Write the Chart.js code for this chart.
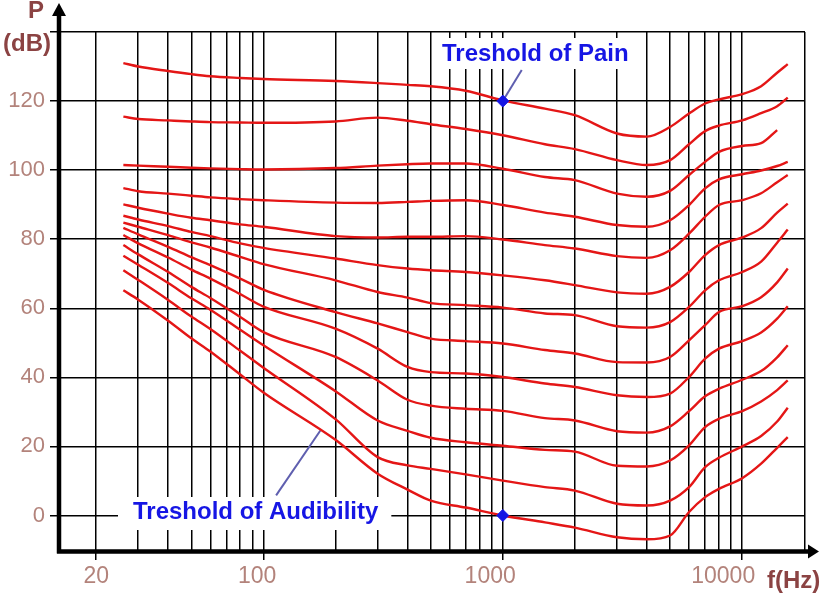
<!DOCTYPE html>
<html><head><meta charset="utf-8">
<script src="https://cdn.jsdelivr.net/npm/chart.js@4.4.1/dist/chart.umd.min.js"></script>
<style>html,body{margin:0;padding:0;background:#fff;}canvas{display:block;}</style>
</head><body>
<canvas id="c" width="825" height="600"></canvas>
<script>
// ---- data (frequency in Hz, sound pressure level in dB) ----
const freqs = [26, 30, 40, 50, 60, 80, 100, 200, 300, 400, 500, 700, 1000, 1500, 2000, 3000, 4000, 5000, 6000, 7000, 8000, 10000, 12000, 14000, 15500];
const phon120 = [131, 130, 128.7, 127.8, 127.2, 126.7, 126.4, 125.8, 125.2, 124.7, 124.3, 123, 120.2, 117.8, 115.9, 110.6, 109.7, 112.5, 116.4, 119.3, 120.5, 122, 124.3, 128.2, 130.7];
const phon110 = [115.5, 114.8, 114.4, 114.1, 113.9, 113.8, 113.7, 114.1, 115.2, 114.3, 113.3, 111.9, 110.1, 107.5, 106.1, 102.9, 101.5, 102.9, 107.5, 111.3, 112.9, 114.4, 116.5, 118.5, 121];
const phon100 = [101.5, 101.3, 101, 100.7, 100.5, 100.3, 100.2, 100.6, 101.3, 101.7, 101.9, 101.9, 100.4, 98, 97.1, 93.2, 92.3, 94, 98.6, 102.4, 105.3, 107, 107.8, 111.6, null];
const phon90 = [94.8, 93.9, 93.2, 92.6, 92.1, 91.6, 91.3, 90.6, 90.5, 90.8, 91.1, 91.3, 89.9, 87.7, 86.5, 84.1, 83.6, 85.5, 89.9, 94.7, 97.3, 98.8, 99.9, 101.2, 102.4];
const phon80 = [90.1, 89.1, 87.4, 86.2, 85.5, 84.3, 83.6, 80.9, 80.5, 80.7, 80.7, 80.9, 79.9, 78.3, 77.3, 75.1, 74.6, 76.8, 81.6, 86.5, 89.9, 91.3, 93.3, 96.5, 98.6];
const phon70 = [86.8, 85.7, 83.8, 82.1, 80.9, 78.8, 77.5, 74.4, 72.5, 71.5, 71, 70.5, 69.5, 68.1, 66.7, 64.6, 64.2, 66.2, 70.5, 75.4, 78.3, 80.5, 83.2, 87.7, 90.3];
const phon60 = [84.8, 83.6, 81.2, 79.1, 77.6, 74.9, 72.8, 68.1, 64.7, 63.1, 61.5, 60.9, 60.2, 58.5, 58, 54.8, 54.4, 56, 60.4, 65.2, 68.1, 70.5, 73.5, 79, 82.8];
const phon50 = [83.3, 81.4, 77.8, 74.8, 72.5, 68.6, 65.4, 58.9, 55.6, 53.1, 51.2, 50.5, 49.8, 47.9, 46.9, 44.4, 44.3, 45.9, 50.7, 55.1, 58.9, 60.6, 63.2, 67.5, 71.5];
const phon40 = [81.2, 78.8, 74.7, 71.2, 68.6, 64.1, 60.5, 54.1, 48.3, 43, 41.5, 41.1, 40.1, 38.2, 37.2, 34.8, 34.3, 35.3, 40.1, 45.4, 48.3, 50.5, 53, 57, 60.6];
const phon30 = [78.3, 75.6, 70.5, 66.2, 63, 57.5, 53.1, 45.9, 39.1, 33.5, 31.8, 30.9, 30.3, 28.2, 27.5, 24.4, 24, 25.8, 30.2, 34.5, 36.7, 39.3, 41.8, 45.8, 49.3];
const phon20 = [75.2, 72.6, 67.3, 62.9, 59.6, 53.8, 49.3, 36, 27.5, 24.5, 22.5, 21.2, 20.2, 19, 18.5, 14.4, 14.2, 15.9, 20.3, 25.6, 28, 30.2, 33, 36.3, 39.1];
const phon10 = [71, 68.2, 62.4, 57.6, 54, 47.7, 42.8, 27.9, 16.9, 14.5, 13.5, 11.9, 10.1, 8.2, 7.2, 3.4, 2.9, 4.3, 8.2, 14, 16.7, 20, 23, 27.2, 31.2];
const phon0 = [65.2, 62.5, 56.4, 51.3, 47.5, 40.8, 35.6, 21.9, 12.1, 7.5, 4.3, 2.3, 0, -2, -3.5, -6.3, -6.9, -5.8, 1, 5.3, 7.7, 10.8, 15, 19.6, 22.7];

const markerFreqs = [1000, 1000];
const markerLevels = [120, 0];

const xTickValues = [20,30,40,50,60,70,80,90,100,200,300,400,500,600,700,800,900,1000,2000,3000,4000,5000,6000,7000,8000,9000,10000];
const xTickLabels = [20, 100, 1000, 10000];
const yTickValues = [-10, 0, 20, 40, 60, 80, 100, 120, 140];
const yTickLabels = [0, 20, 40, 60, 80, 100, 120];
const xMin = 14, xMax = 18300, yMin = -10, yMax = 140;

const painText = 'Treshold of Pain';
const audText = 'Treshold of Audibility';
const painPointer = [[1000, 120], [1200, 129]];
const audPointer = [[113, 5.8], [173, 24.6]];

// ---- chart ----
const curves = [phon0, phon10, phon20, phon30, phon40, phon50, phon60, phon70, phon80, phon90, phon100, phon110, phon120];
const CURVE = 'rgb(228,22,22)';
const TICKCOL = '#b3837b';
const TITLECOL = '#8b4343';
const BLUE = 'rgb(22,22,228)';
const FONT = '"Liberation Sans", Arial, sans-serif';

const datasets = curves.map((vals, k) => ({
  label: (k * 10) + ' phon',
  data: freqs.map((f, i) => ({x: f, y: vals[i]})).filter(p => p.y !== null),
  borderColor: CURVE,
  borderWidth: 2.4,
  pointRadius: 0,
  fill: false,
  cubicInterpolationMode: 'monotone',
  order: 1
}));
datasets.push({
  label: 'markers',
  data: markerFreqs.map((f, i) => ({x: f, y: markerLevels[i]})),
  showLine: false,
  pointStyle: 'rectRot',
  pointRadius: 6,
  backgroundColor: BLUE,
  borderColor: BLUE,
  borderWidth: 1,
  order: 0
});

const decor = {
  id: 'decor',
  beforeDatasetsDraw(chart) {
    const {ctx, scales: {x, y}} = chart;
    ctx.save();
    ctx.font = 'bold 24px ' + FONT;
    ctx.textBaseline = 'middle';
    // white backgrounds behind the labels
    ctx.fillStyle = '#ffffff';
    const pw = ctx.measureText(painText).width;
    const aw = ctx.measureText(audText).width;
    ctx.fillRect(436, 38, pw + 14, 31);
    ctx.fillRect(118, 497, aw + 28, 33);
    // pointer lines
    ctx.strokeStyle = 'rgb(95,95,175)';
    ctx.lineWidth = 2;
    [painPointer, audPointer].forEach(p => {
      ctx.beginPath();
      ctx.moveTo(x.getPixelForValue(p[0][0]), y.getPixelForValue(p[0][1]));
      ctx.lineTo(x.getPixelForValue(p[1][0]), y.getPixelForValue(p[1][1]));
      ctx.stroke();
    });
    ctx.fillStyle = BLUE;
    ctx.fillText(painText, 442, 54);
    ctx.fillText(audText, 133, 512);
    ctx.restore();
  },
  afterDraw(chart) {
    const {ctx, chartArea: a} = chart;
    ctx.save();
    ctx.fillStyle = '#000';
    ctx.strokeStyle = '#000';
    ctx.lineWidth = 4.5;
    const ay = a.bottom + 1.5;
    ctx.beginPath();
    ctx.moveTo(a.left, ay + 2);
    ctx.lineTo(a.left, 14);
    ctx.moveTo(a.left - 2, ay);
    ctx.lineTo(a.right + 4, ay);
    ctx.stroke();
    // arrow heads
    ctx.beginPath();
    ctx.moveTo(a.left, 3);
    ctx.lineTo(a.left - 7, 16);
    ctx.lineTo(a.left + 7, 16);
    ctx.closePath();
    ctx.fill();
    ctx.beginPath();
    ctx.moveTo(a.right + 14, ay);
    ctx.lineTo(a.right + 3, ay - 7);
    ctx.lineTo(a.right + 3, ay + 7);
    ctx.closePath();
    ctx.fill();
    // axis titles
    ctx.fillStyle = TITLECOL;
    ctx.font = 'bold 24px ' + FONT;
    ctx.textBaseline = 'middle';
    ctx.textAlign = 'center';
    ctx.fillText('P', 36, 11);
    ctx.fillText('(dB)', 27, 44);
    ctx.textAlign = 'left';
    ctx.fillText('f(Hz)', 767, 581);
    ctx.restore();
  }
};

new Chart(document.getElementById('c'), {
  type: 'line',
  data: {datasets},
  options: {
    responsive: false,
    animation: false,
    devicePixelRatio: 1,
    layout: {padding: {left: 0, right: 20, top: 32, bottom: 0}},
    plugins: {legend: {display: false}, tooltip: {enabled: false}},
    scales: {
      x: {
        type: 'logarithmic',
        min: xMin, max: xMax,
        afterBuildTicks: s => { s.ticks = xTickValues.concat([xMax]).map(v => ({value: v})); },
        afterFit: s => { s.height = 50; },
        border: {display: false},
        grid: {
          color: '#000',
          lineWidth: 1.5,
          drawTicks: true,
          tickLength: 10,
          tickWidth: 1.5,
          tickColor: c => (c.tick && xTickLabels.includes(c.tick.value)) ? '#000' : 'rgba(0,0,0,0)'
        },
        ticks: {
          autoSkip: false,
          maxRotation: 0,
          align: 'end',
          labelOffset: 13,
          padding: 3,
          color: TICKCOL,
          font: {family: FONT, size: 23},
          callback: v => xTickLabels.includes(v) ? String(v) : ''
        }
      },
      y: {
        type: 'linear',
        min: yMin, max: yMax,
        afterBuildTicks: s => { s.ticks = yTickValues.map(v => ({value: v})); },
        afterFit: s => { s.width = 59; },
        border: {display: false},
        grid: {
          color: c => (c.tick && c.tick.value === yMin) ? 'rgba(0,0,0,0)' : '#000',
          lineWidth: 1.5,
          drawTicks: true,
          tickLength: 9,
          tickWidth: 1.5,
          tickColor: c => (c.tick && c.tick.value === yMin) ? 'rgba(0,0,0,0)' : '#000'
        },
        ticks: {
          padding: 5,
          color: TICKCOL,
          font: {family: FONT, size: 22},
          callback: v => yTickLabels.includes(v) ? String(v) : ''
        }
      }
    }
  },
  plugins: [decor]
});
</script>
</body></html>
